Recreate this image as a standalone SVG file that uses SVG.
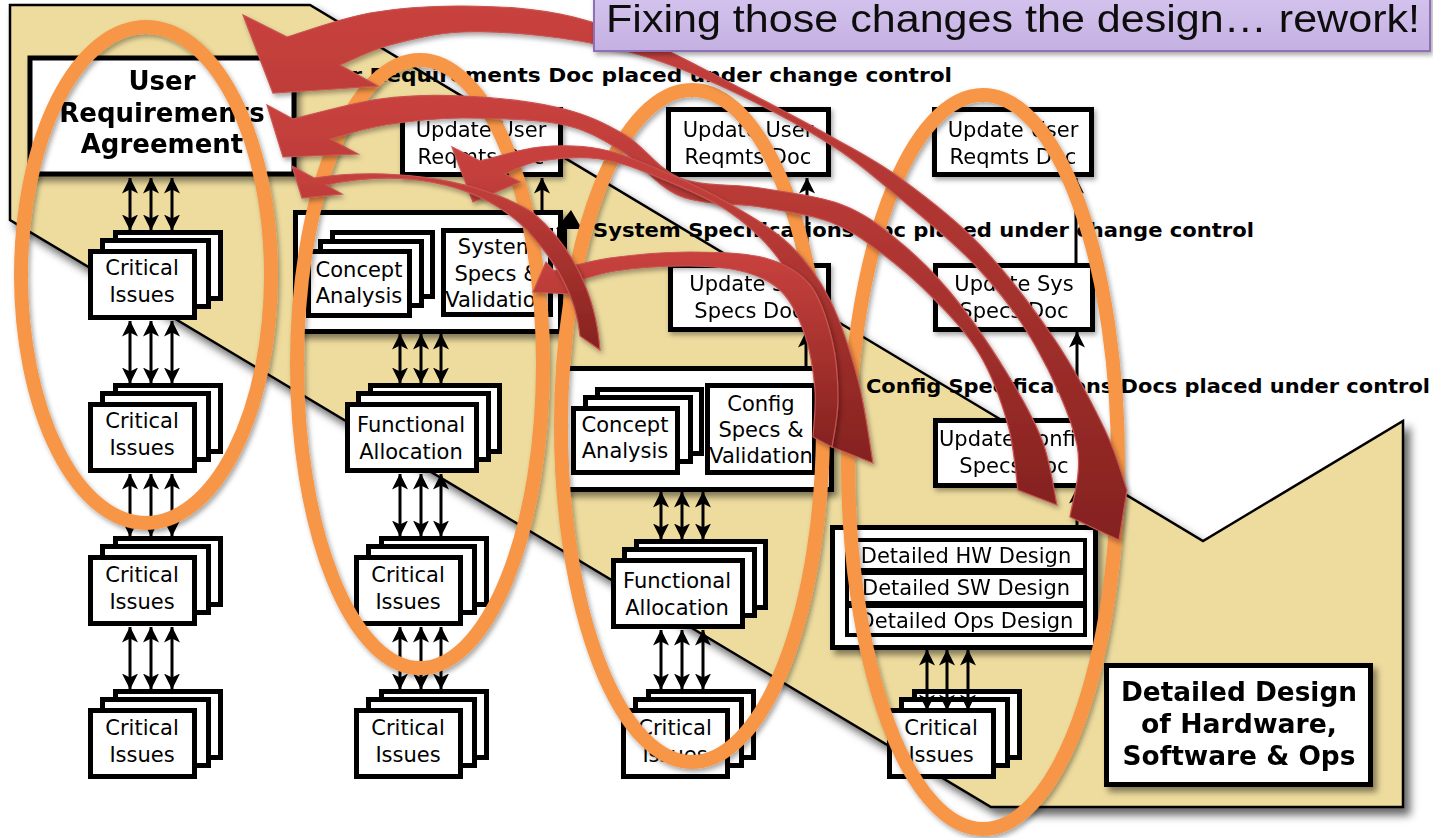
<svg xmlns="http://www.w3.org/2000/svg" width="1433" height="838" viewBox="0 0 1433 838">
  <style>
    .tan { fill:#EEDC9E; stroke:#000; stroke-width:2.5; }
    .box { fill:#fff; stroke:#000; stroke-width:5; }
    .thin { fill:#fff; stroke:#000; stroke-width:4; }
    .t { font-family:"DejaVu Sans", Verdana, sans-serif; font-size:21px; text-anchor:middle; fill:#000; }
    .tb { font-family:"DejaVu Sans", Verdana, sans-serif; font-size:26px; font-weight:bold; text-anchor:middle; fill:#000; }
    .lbl { font-family:"DejaVu Sans Condensed", "DejaVu Sans", sans-serif; font-size:19.5px; font-weight:bold; fill:#000; }
    .both { stroke:#000; stroke-width:3; fill:none; marker-start:url(#ah); marker-end:url(#ah); }
    .one { stroke:#000; stroke-width:3; fill:none; marker-end:url(#ah); }
    .ring { fill:none; stroke:#F79646; stroke-width:14; filter:url(#soft); }
    .rw { fill:url(#redFill); stroke:#C85450; stroke-width:1.2; filter:url(#soft); }
  </style>
  <defs>
    <filter id="bigShadow" x="-5%" y="-5%" width="115%" height="115%">
      <feDropShadow dx="6" dy="7" stdDeviation="4" flood-color="#000" flood-opacity="0.6"/>
    </filter>
    <filter id="boxShadow" x="-10%" y="-10%" width="130%" height="130%">
      <feDropShadow dx="4" dy="5" stdDeviation="3" flood-color="#000" flood-opacity="0.45"/>
    </filter>
    <filter id="soft" x="-10%" y="-10%" width="130%" height="130%">
      <feDropShadow dx="2" dy="3" stdDeviation="2.5" flood-color="#000" flood-opacity="0.35"/>
    </filter>
    <linearGradient id="redFill" x1="0" y1="0" x2="0" y2="1">
      <stop offset="0" stop-color="#C9423E"/>
      <stop offset="1" stop-color="#85221F"/>
    </linearGradient>
    <linearGradient id="titleFill" x1="0" y1="0" x2="0" y2="1">
      <stop offset="0" stop-color="#D5C4EE"/>
      <stop offset="1" stop-color="#C4B0E2"/>
    </linearGradient>
    <marker id="ah" viewBox="0 0 16 16" refX="15.5" refY="8" markerWidth="16" markerHeight="16" markerUnits="userSpaceOnUse" orient="auto-start-reverse">
      <path d="M0,0 L16,8 L0,16 L4,8 Z" fill="#000"/>
    </marker>
  </defs>

  <rect width="1433" height="838" fill="#fff"/>

  <!-- stepped tan band behind the phases -->
  <polygon class="tan" filter="url(#bigShadow)" points="10,5 310,5 1203,541 1403,421 1403,807 991,807 10,220"/>

  <!-- baseline labels -->
  <g id="labels">
    <text class="lbl" x="306" y="82" textLength="646" lengthAdjust="spacingAndGlyphs">User Requirements Doc placed under change control</text>
    <text class="lbl" x="593" y="237" textLength="661" lengthAdjust="spacingAndGlyphs">System Specifications Doc placed under change control</text>
    <text class="lbl" x="866" y="393" textLength="564" lengthAdjust="spacingAndGlyphs">Config Specifications Docs placed under control</text>
  </g>

  <!-- column 1 -->
  <g id="ura" filter="url(#boxShadow)">
    <rect class="box" x="30" y="58" width="264" height="116" stroke-width="6"/>
    <text class="tb" x="162" y="90">User</text>
    <text class="tb" x="162" y="122">Requirements</text>
    <text class="tb" x="162" y="153">Agreement</text>
  </g>
  <g id="ci-1-1">
    <rect class="box" x="115.5" y="232.5" width="105" height="66"/>
    <rect class="box" x="102.5" y="240.5" width="106" height="66"/>
    <rect class="box" x="90.5" y="251.5" width="104" height="66"/>
    <text class="t" x="142" y="275">Critical</text>
    <text class="t" x="142" y="302">Issues</text>
  </g>
  <g id="ci-1-2">
    <rect class="box" x="115.5" y="385.5" width="105" height="66"/>
    <rect class="box" x="102.5" y="393.5" width="106" height="66"/>
    <rect class="box" x="90.5" y="404.5" width="104" height="66"/>
    <text class="t" x="142" y="428">Critical</text>
    <text class="t" x="142" y="455">Issues</text>
  </g>
  <g id="ci-1-3">
    <rect class="box" x="115.5" y="538.5" width="105" height="66"/>
    <rect class="box" x="102.5" y="546.5" width="106" height="66"/>
    <rect class="box" x="90.5" y="557.5" width="104" height="66"/>
    <text class="t" x="142" y="582">Critical</text>
    <text class="t" x="142" y="609">Issues</text>
  </g>
  <g id="ci-1-4">
    <rect class="box" x="115.5" y="691.5" width="105" height="66"/>
    <rect class="box" x="102.5" y="699.5" width="106" height="66"/>
    <rect class="box" x="90.5" y="710.5" width="104" height="66"/>
    <text class="t" x="142" y="735">Critical</text>
    <text class="t" x="142" y="762">Issues</text>
  </g>

  <!-- column 2 -->
  <g id="upd-user-1" filter="url(#soft)">
    <rect class="box" x="402.5" y="109.5" width="158" height="65"/>
    <text class="t" x="481" y="137">Update User</text>
    <text class="t" x="481" y="164">Reqmts Doc</text>
  </g>
  <g id="sys-block" filter="url(#boxShadow)">
    <rect class="box" x="295.5" y="212.5" width="265" height="119"/>
  </g>
  <g id="concept-2">
    <rect class="box" x="332.5" y="232.5" width="100" height="64"/>
    <rect class="box" x="320.5" y="241.5" width="101" height="64"/>
    <rect class="box" x="308.5" y="251.5" width="101" height="64"/>
    <text class="t" x="359" y="277">Concept</text>
    <text class="t" x="359" y="303">Analysis</text>
  </g>
  <g id="sys-specs">
    <rect class="box" x="443.5" y="230.5" width="107" height="84"/>
    <text class="t" x="497" y="254">System</text>
    <text class="t" x="497" y="281">Specs &amp;</text>
    <text class="t" x="497" y="307">Validation</text>
  </g>
  <path id="sys-mark" d="M571,210 L582,229 L567,229 L567,253 L557,253 L557,229 L556,229 Z" fill="#000"/>
  <g id="fa-2">
    <rect class="box" x="370.5" y="385.5" width="129" height="66"/>
    <rect class="box" x="358.5" y="393.5" width="130" height="66"/>
    <rect class="box" x="347.5" y="404.5" width="129" height="66"/>
    <text class="t" x="411" y="432">Functional</text>
    <text class="t" x="411" y="459">Allocation</text>
  </g>
  <g id="ci-2-3">
    <rect class="box" x="381.5" y="538.5" width="105" height="66"/>
    <rect class="box" x="368.5" y="546.5" width="106" height="66"/>
    <rect class="box" x="356.5" y="557.5" width="104" height="66"/>
    <text class="t" x="408" y="582">Critical</text>
    <text class="t" x="408" y="609">Issues</text>
  </g>
  <g id="ci-2-4">
    <rect class="box" x="381.5" y="691.5" width="105" height="66"/>
    <rect class="box" x="368.5" y="699.5" width="106" height="66"/>
    <rect class="box" x="356.5" y="710.5" width="104" height="66"/>
    <text class="t" x="408" y="735">Critical</text>
    <text class="t" x="408" y="762">Issues</text>
  </g>

  <!-- column 3 -->
  <g id="upd-user-2" filter="url(#soft)">
    <rect class="box" x="668.5" y="109.5" width="160" height="65"/>
    <text class="t" x="748" y="137">Update User</text>
    <text class="t" x="748" y="164">Reqmts Doc</text>
  </g>
  <g id="upd-sys-1" filter="url(#soft)">
    <rect class="box" x="670.5" y="265.5" width="158" height="64"/>
    <text class="t" x="749" y="291">Update Sys</text>
    <text class="t" x="749" y="318">Specs Doc</text>
  </g>
  <g id="cfg-block" filter="url(#boxShadow)">
    <rect class="box" x="565.5" y="368.5" width="266" height="121"/>
  </g>
  <g id="concept-3">
    <rect class="box" x="597.5" y="389.5" width="104" height="64"/>
    <rect class="box" x="585.5" y="397.5" width="105" height="64"/>
    <rect class="box" x="573.5" y="408.5" width="104" height="64"/>
    <text class="t" x="625" y="432">Concept</text>
    <text class="t" x="625" y="458">Analysis</text>
  </g>
  <g id="cfg-specs">
    <rect class="box" x="707.5" y="385.5" width="107" height="87"/>
    <text class="t" x="761" y="411">Config</text>
    <text class="t" x="761" y="437">Specs &amp;</text>
    <text class="t" x="761" y="463">Validation</text>
  </g>
  <g id="fa-3">
    <rect class="box" x="636.5" y="541.5" width="129" height="66"/>
    <rect class="box" x="624.5" y="549.5" width="130" height="66"/>
    <rect class="box" x="613.5" y="560.5" width="129" height="66"/>
    <text class="t" x="677" y="588">Functional</text>
    <text class="t" x="677" y="615">Allocation</text>
  </g>
  <g id="ci-3-4">
    <rect class="box" x="648.5" y="691.5" width="105" height="66"/>
    <rect class="box" x="635.5" y="699.5" width="106" height="66"/>
    <rect class="box" x="623.5" y="710.5" width="104" height="66"/>
    <text class="t" x="675" y="735">Critical</text>
    <text class="t" x="675" y="762">Issues</text>
  </g>

  <!-- column 4 -->
  <g id="upd-user-3" filter="url(#soft)">
    <rect class="box" x="934.5" y="109.5" width="157" height="65"/>
    <text class="t" x="1013" y="137">Update User</text>
    <text class="t" x="1013" y="164">Reqmts Doc</text>
  </g>
  <g id="upd-sys-2" filter="url(#soft)">
    <rect class="box" x="935.5" y="265.5" width="157" height="64"/>
    <text class="t" x="1014" y="291">Update Sys</text>
    <text class="t" x="1014" y="318">Specs Doc</text>
  </g>
  <g id="upd-cfg" filter="url(#soft)">
    <rect class="box" x="935.5" y="420.5" width="157" height="65"/>
    <text class="t" x="1014" y="446">Update Config</text>
    <text class="t" x="1014" y="473">Specs Doc</text>
  </g>
  <g id="detailed-block" filter="url(#boxShadow)">
    <rect class="box" x="832.5" y="527.5" width="263" height="120"/>
    <rect class="thin" x="847" y="540" width="238" height="30"/>
    <rect class="thin" x="847" y="573" width="238" height="30"/>
    <rect class="thin" x="847" y="606" width="238" height="29"/>
    <text class="t" x="966" y="563">Detailed HW Design</text>
    <text class="t" x="966" y="595">Detailed SW Design</text>
    <text class="t" x="966" y="628">Detailed Ops Design</text>
  </g>
  <g id="ci-4-4">
    <rect class="box" x="914.5" y="691.5" width="105" height="66"/>
    <rect class="box" x="901.5" y="699.5" width="106" height="66"/>
    <rect class="box" x="889.5" y="710.5" width="104" height="66"/>
    <text class="t" x="941" y="735">Critical</text>
    <text class="t" x="941" y="762">Issues</text>
  </g>
  <g id="phase-title" filter="url(#boxShadow)">
    <rect class="box" x="1106.5" y="665.5" width="264" height="119"/>
    <text class="tb" x="1239" y="701" font-size="25" textLength="236" lengthAdjust="spacingAndGlyphs">Detailed Design</text>
    <text class="tb" x="1239" y="733" font-size="25" textLength="196" lengthAdjust="spacingAndGlyphs">of Hardware,</text>
    <text class="tb" x="1239" y="765" font-size="25" textLength="233" lengthAdjust="spacingAndGlyphs">Software &amp; Ops</text>
  </g>

  <!-- connectors -->
  <g id="connectors">
    <path class="both" d="M130,178 V230"/><path class="both" d="M151,178 V230"/><path class="both" d="M172,178 V230"/>
    <path class="both" d="M130,321 V383"/><path class="both" d="M151,321 V383"/><path class="both" d="M172,321 V383"/>
    <path class="both" d="M130,474 V536"/><path class="both" d="M151,474 V536"/><path class="both" d="M172,474 V536"/>
    <path class="both" d="M130,627 V689"/><path class="both" d="M151,627 V689"/><path class="both" d="M172,627 V689"/>
    <path class="both" d="M400,334 V383"/><path class="both" d="M421,334 V383"/><path class="both" d="M441,334 V383"/>
    <path class="both" d="M400,474 V536"/><path class="both" d="M421,474 V536"/><path class="both" d="M441,474 V536"/>
    <path class="both" d="M400,627 V689"/><path class="both" d="M421,627 V689"/><path class="both" d="M441,627 V689"/>
    <path class="both" d="M661,492 V539"/><path class="both" d="M682,492 V539"/><path class="both" d="M703,492 V539"/>
    <path class="both" d="M661,630 V689"/><path class="both" d="M682,630 V689"/><path class="both" d="M703,630 V689"/>
    <path class="both" d="M927,650 V710"/><path class="both" d="M947,650 V710"/><path class="both" d="M968,650 V710"/>
    <path class="one" d="M542,211 V178"/>
    <path class="one" d="M807,264 V178"/>
    <path class="one" d="M1076,264 V178"/>
    <path class="one" d="M806,367 V332"/>
    <path class="one" d="M1077,419 V332"/>
    <path class="one" d="M1077,526 V488"/>
  </g>

  <!-- highlight rings -->
  <g id="rings">
    <ellipse class="ring" cx="146" cy="275" rx="125" ry="248"/>
    <ellipse class="ring" cx="420" cy="364" rx="123" ry="304"/>
    <ellipse class="ring" cx="692" cy="426" rx="131" ry="336"/>
    <ellipse class="ring" cx="983" cy="462" rx="135" ry="367"/>
  </g>

  <!-- rework arrows -->
  <g id="rework">
    <path id="rw-1" class="rw" d="M287,37 C300.8,33 340.7,18.2 370,13 C399.3,7.8 431.3,5.8 463,6 C494.7,6.2 528.8,7.8 560,14 C591.2,20.2 620,30.7 650,43 C680,55.3 710,72.5 740,88 C770,103.5 803.3,121 830,136 C856.7,151 875,159.8 900,178 C925,196.2 954.2,218 980,245 C1005.8,272 1034.2,309.2 1055,340 C1075.8,370.8 1093,405 1105,430 C1117,455 1123.3,480 1127,490 L1119,540 L1070,517 C1071.2,505 1082.8,473.7 1077,445 C1071.2,416.3 1052,375 1035,345 C1018,315 999.2,290.8 975,265 C950.8,239.2 914.5,210.3 890,190 C865.5,169.7 853,158.8 828,143 C803,127.2 769.7,109.2 740,95 C710.3,80.8 680,67.5 650,58 C620,48.5 591.2,42.3 560,38 C528.8,33.7 491.3,30.8 463,32 C434.7,33.2 410.5,39.5 390,45 C369.5,50.5 348.3,61.7 340,65 L378,86 L273,93 L243,15 Z"/>
    <path id="rw-2" class="rw" d="M293,119 C307.5,115.7 351.7,102.8 380,99 C408.3,95.2 433,94.5 463,96 C493,97.5 533,101.5 560,108 C587,114.5 605,123.3 625,135 C645,146.7 657.5,169.2 680,178 C702.5,186.8 733.3,183.7 760,188 C786.7,192.3 817.5,195.7 840,204 C862.5,212.3 876.7,223.3 895,238 C913.3,252.7 931.7,270 950,292 C968.3,314 989.7,345.3 1005,370 C1020.3,394.7 1033.3,417.5 1042,440 C1050.7,462.5 1054.5,494.2 1057,505 L1018,490 C1016.3,479.2 1014.3,447.5 1008,425 C1001.7,402.5 992.2,375.8 980,355 C967.8,334.2 951.7,317.2 935,300 C918.3,282.8 897.5,265 880,252 C862.5,239 850,229.5 830,222 C810,214.5 785,211.3 760,207 C735,202.7 703.3,205.5 680,196 C656.7,186.5 640,162 620,150 C600,138 586.2,129.3 560,124 C533.8,118.7 492.2,118.2 463,118 C433.8,118.2 407.2,121.5 385,125 C362.8,128.5 339.2,136.7 330,139 L358,154 L283,157 L267,105 Z"/>
    <path id="rw-4" class="rw" d="M480,161 C490,158.7 520,149 540,147 C560,145 580,145.2 600,149 C620,152.8 638.3,160.8 660,170 C681.7,179.2 708.3,191.5 730,204 C751.7,216.5 773.3,229 790,245 C806.7,261 818.7,277.5 830,300 C841.3,322.5 850.8,352.8 858,380 C865.2,407.2 870.5,449.2 873,463 L832,447 C830.3,435 827,397.8 822,375 C817,352.2 809.3,329.5 802,310 C794.7,290.5 790.3,274.5 778,258 C765.7,241.5 747.7,224.3 728,211 C708.3,197.7 681.3,186.7 660,178 C638.7,169.3 620,161.8 600,159 C580,156.2 555.8,158.5 540,161 C524.2,163.5 510.8,171.8 505,174 L520,182 L473,202 L452,147 Z"/>
    <path id="rw-5" class="rw" d="M554,271 C563.3,268.8 587.3,261.2 610,258 C632.7,254.8 664.2,252 690,252 C715.8,252 745,252.5 765,258 C785,263.5 798.8,271.3 810,285 C821.2,298.7 827.3,320.8 832,340 C836.7,359.2 838,382.2 838,400 C838,417.8 833,439.2 832,447 L813,437 C813.3,429.2 816.3,407 815,390 C813.7,373 810.5,351.3 805,335 C799.5,318.7 792,302.5 782,292 C772,281.5 760.3,276.3 745,272 C729.7,267.7 711.7,266.2 690,266 C668.3,265.8 635.7,267.8 615,271 C594.3,274.2 574.2,282.7 566,285 L574,294 L533,292 L546,262 Z"/>
    <path id="rw-3" class="rw" d="M314,178 C380,168 470,175 532,212 C572,245 596,295 600,350 L580,336 C576,295 556,262 527,230 C475,178 395,170 326,185 L342,194 L302,198 L292,166 Z"/>
  </g>

  <!-- slide callout -->
  <g id="callout" filter="url(#soft)">
    <rect x="594" y="-6" width="836" height="57" fill="url(#titleFill)" stroke="#8D70B5" stroke-width="2"/>
    <text x="606" y="32" font-family="'Liberation Sans', Arial, sans-serif" font-size="38" fill="#111" textLength="814" lengthAdjust="spacingAndGlyphs">Fixing those changes the design… rework!</text>
  </g>
</svg>
